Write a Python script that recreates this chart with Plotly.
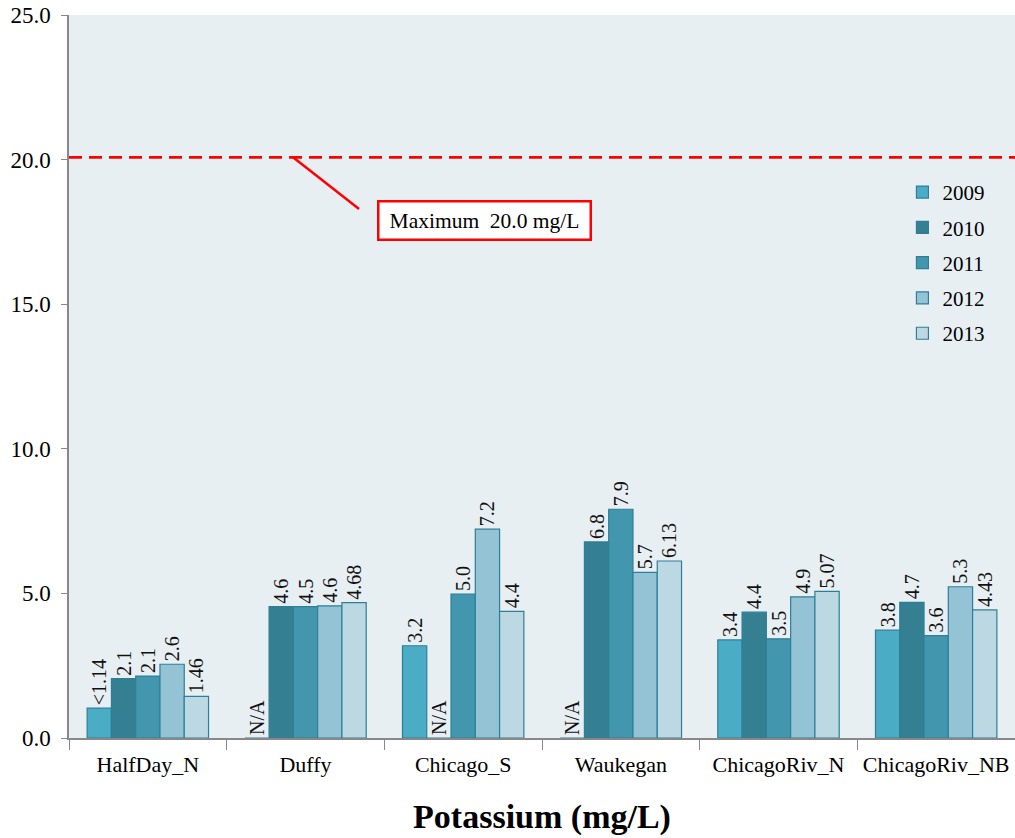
import plotly.graph_objects as go

categories = ["HalfDay_N", "Duffy", "Chicago_S", "Waukegan", "ChicagoRiv_N", "ChicagoRiv_NB"]
years = ["2009", "2010", "2011", "2012", "2013"]

v2009 = [1.03, 0, 3.19, 0, 3.39, 3.73]
v2010 = [2.05, 4.54, 0, 6.78, 4.35, 4.69]
v2011 = [2.14, 4.54, 4.98, 7.91, 3.43, 3.54]
v2012 = [2.55, 4.57, 7.22, 5.73, 4.88, 5.23]
v2013 = [1.44, 4.68, 4.38, 6.12, 5.07, 4.43]

t2009 = ["<1.14", "N/A", "3.2", "N/A", "3.4", "3.8"]
t2010 = ["2.1", "4.6", "N/A", "6.8", "4.4", "4.7"]
t2011 = ["2.1", "4.5", "5.0", "7.9", "3.5", "3.6"]
t2012 = ["2.6", "4.6", "7.2", "5.7", "4.9", "5.3"]
t2013 = ["1.46", "4.68", "4.4", "6.13", "5.07", "4.43"]

values = [v2009, v2010, v2011, v2012, v2013]
texts = [t2009, t2010, t2011, t2012, t2013]
colors = ["#4BACC6", "#357F93", "#4297AE", "#93C3D5", "#BCD8E3"]

limit_value = 20.0
limit_label = "Maximum  20.0 mg/L"
y_ticks = [0, 5, 10, 15, 20, 25]

font_family = "Times New Roman, Liberation Serif, serif"

fig = go.Figure()
for yr, vals, txt, col in zip(years, values, texts, colors):
    fig.add_trace(go.Bar(
        name=yr, x=categories, y=vals, text=txt,
        textposition="outside", textangle=-90, constraintext="none",
        textfont=dict(family=font_family, size=20, color="#111111"),
        marker=dict(color=col, line=dict(color="#2E7F96", width=1.2)),
        cliponaxis=False, legendgroup=yr,
    ))

fig.add_shape(type="line", xref="paper", yref="y", x0=0, x1=1,
              y0=limit_value + 0.08, y1=limit_value + 0.08,
              line=dict(color="#FF0000", width=2.8, dash="13px,7px"))
fig.add_shape(type="line", xref="paper", yref="y", x0=0.2368, x1=0.3066,
              y0=limit_value + 0.08, y1=18.29,
              line=dict(color="#FF0000", width=2.5))
fig.add_annotation(xref="paper", yref="y", x=0.4387, y=17.89,
                   text=limit_label, showarrow=False,
                   font=dict(family=font_family, size=21.5, color="#000000"),
                   bgcolor="#FFFFFF", bordercolor="#FF0000", borderwidth=2.5,
                   borderpad=3, width=204, height=30)

fig.update_layout(
    width=1015, height=838,
    margin=dict(l=69, r=0, t=15, b=100, autoexpand=False),
    paper_bgcolor="#FFFFFF", plot_bgcolor="#E8EFF3",
    barmode="group", bargap=0.23, bargroupgap=0,
    font=dict(family=font_family, size=21, color="#000000"),
    showlegend=True,
    legend=dict(x=0.881, y=0.783, xanchor="left", yanchor="top",
                bgcolor="rgba(0,0,0,0)", font=dict(size=21),
                tracegroupgap=5, traceorder="grouped",
                itemwidth=30),
    xaxis=dict(
        title=dict(text="<b>Potassium (mg/L)</b>", font=dict(size=34), standoff=28),
        showline=True, linecolor="#888888", linewidth=1.5,
        ticks="outside", tickson="boundaries", ticklen=10, tickcolor="#888888",
        ticklabelstandoff=6,
        tickfont=dict(size=22), showgrid=False, automargin=True,
    ),
    yaxis=dict(
        range=[0, 25], tickvals=y_ticks, tickformat=".1f",
        showline=True, linecolor="#888888", linewidth=1.5,
        ticks="outside", ticklen=6, tickcolor="#888888",
        ticklabelstandoff=6,
        tickfont=dict(size=23), showgrid=False, zeroline=False, automargin=False,
    ),
)

fig.write_html("out.html", config={"displayModeBar": False},
               post_script="document.body.style.margin='0px';")
